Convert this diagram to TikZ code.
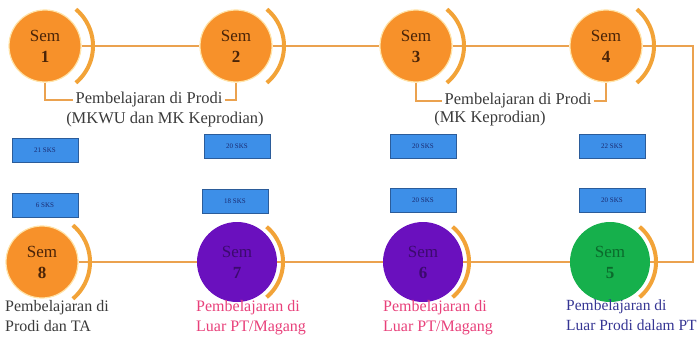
\documentclass[tikz,border=0pt]{standalone}
\usepackage{fontspec}
\setmainfont{Liberation Serif}
\usepackage{xcolor}
\usepackage{tikz}
\usetikzlibrary{calc,positioning}

\definecolor{semorg}{HTML}{F7912A}
\definecolor{semhalo}{HTML}{FFE3A8}
\definecolor{semtxt}{HTML}{4A2408}
\definecolor{semprp}{HTML}{6A10BE}
\definecolor{prptxt}{HTML}{3C0A6E}
\definecolor{semgrn}{HTML}{16B04C}
\definecolor{grntxt}{HTML}{0B6A2C}
\definecolor{rimorg}{HTML}{F2A338}
\definecolor{linkorg}{HTML}{EBA24F}
\definecolor{sksblue}{HTML}{3D8FE8}
\definecolor{sksline}{HTML}{2B5C9A}
\definecolor{skstxt}{HTML}{1A2A70}
\definecolor{notetxt}{HTML}{3A3A3A}
\definecolor{notepink}{HTML}{E8407A}
\definecolor{noteblue}{HTML}{353593}

\begin{document}
\begin{tikzpicture}[x=1pt,y=1pt,
  sem/.style={circle,inner sep=0pt,align=center,font=\fontsize{17}{21}\selectfont},
  semorange/.style={sem,minimum size=72pt,fill=semorg,draw=semhalo,line width=1.2pt,text=semtxt},
  sempurple/.style={sem,minimum size=80pt,fill=semprp,text=prptxt},
  semgreen/.style={sem,minimum size=80pt,fill=semgrn,text=grntxt},
  sks/.style={draw=sksline,fill=sksblue,line width=1pt,minimum width=66pt,minimum height=24pt,font=\fontsize{7}{8}\selectfont,text=skstxt},
  note/.style={font=\fontsize{16}{20}\selectfont,text=notetxt,align=left,inner sep=0pt,anchor=north west},
  brace/.style={font=\fontsize{16.5}{20}\selectfont,text=notetxt,inner sep=2pt},
  link/.style={draw=linkorg,line width=2pt},
  bracket/.style={draw=linkorg,line width=1.2pt},
  rim/.style={draw=rimorg,line width=4pt}]
  \useasboundingbox (0,0) rectangle (698,-342);

  \node[semorange] (s1) at (45,-46) {Sem\\\textbf{1}};
  \node[semorange] (s2) at (236,-46) {Sem\\\textbf{2}};
  \node[semorange] (s3) at (416,-46) {Sem\\\textbf{3}};
  \node[semorange] (s4) at (606,-46) {Sem\\\textbf{4}};
  \node[semgreen] (s5) at (610,-262) {Sem\\\textbf{5}};
  \node[sempurple] (s6) at (423,-262) {Sem\\\textbf{6}};
  \node[sempurple] (s7) at (237,-262) {Sem\\\textbf{7}};
  \node[semorange] (s8) at (42,-262) {Sem\\\textbf{8}};
  \coordinate (turn) at (693,-46);

  \draw[link] (s1) -- (s2) -- (s3) -- (s4) -- (turn) |- (s5);
  \draw[link] (s8) -- (s7) -- (s6) -- (s5);

  \foreach \n/\r in {s1/48,s2/48,s3/48,s4/48,s8/48,s7/46,s6/46,s5/46}
    \draw[rim] ($(\n.center)+(-50:\r pt)$) arc[start angle=-50,end angle=50,radius=\r pt];

  % semester 1-2 dan 3-4
  \node[brace] (t1) at (149,-100) {Pembelajaran di Prodi};
  \node[brace] (t1b) at (165,-120) {(MKWU dan MK Keprodian)};
  \draw[bracket] (s1.south) |- (t1.west);
  \draw[bracket] (t1.east) -| (s2.south);
  \node[brace] (t2) at (518,-101) {Pembelajaran di Prodi};
  \node[brace] (t2b) at (490,-119) {(MK Keprodian)};
  \draw[bracket] (s3.south) |- (t2.west);
  \draw[bracket] (t2.east) -| (s4.south);

  \node[sks] (k1) at (45,-150) {21 SKS};
  \node[sks] (k2) at (237,-146) {20 SKS};
  \node[sks] (k3) at (423,-146) {20 SKS};
  \node[sks] (k4) at (612,-146) {22 SKS};
  \node[sks] (k8) at (45,-205) {6 SKS};
  \node[sks] (k7) at (235,-201) {18 SKS};
  \node[sks] (k6) at (423,-200) {20 SKS};
  \node[sks] (k5) at (612,-200) {20 SKS};

  \node[note] (n8) at (5,-300) {Pembelajaran di\\Prodi dan TA};
  \node[note,text=notepink] (n7) at (196,-300) {Pembelajaran di\\Luar PT/Magang};
  \node[note,text=notepink] (n6) at (383,-300) {Pembelajaran di\\Luar PT/Magang};
  \node[note,text=noteblue,font=\fontsize{15.5}{20}\selectfont] (n5) at (566,-300) {Pembelajaran di\\Luar Prodi dalam PT};

\end{tikzpicture}
\end{document}
